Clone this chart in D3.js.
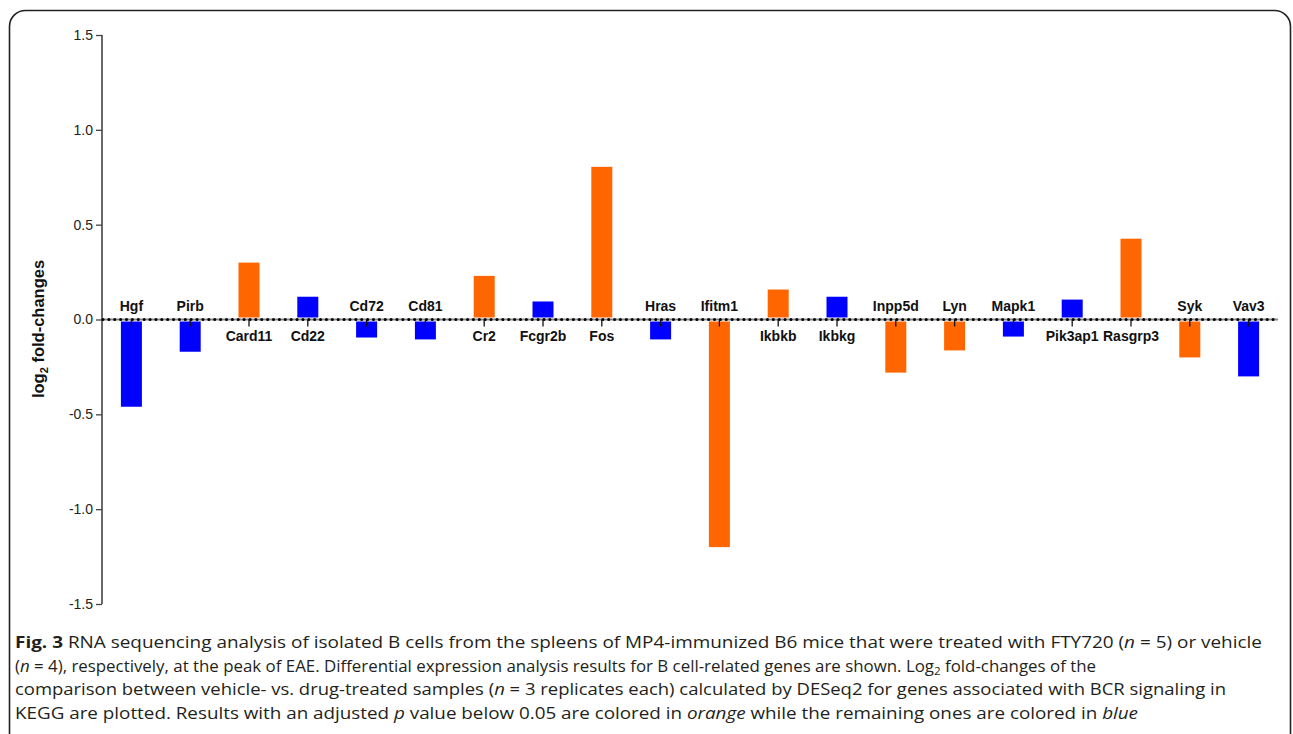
<!DOCTYPE html>
<html><head><meta charset="utf-8">
<script src="https://cdn.jsdelivr.net/npm/d3@7/dist/d3.min.js"></script>
<style>
body{margin:0;background:#fff;}
svg{display:block;}
</style></head>
<body>
<svg id="chart" width="1293" height="734"></svg>
<script>
const genes = ["Hgf","Pirb","Card11","Cd22","Cd72","Cd81","Cr2","Fcgr2b","Fos","Hras","Ifitm1","Ikbkb","Ikbkg","Inpp5d","Lyn","Mapk1","Pik3ap1","Rasgrp3","Syk","Vav3"];
const log2fc = [-0.46,-0.17,0.30,0.12,-0.095,-0.105,0.23,0.095,0.805,-0.105,-1.20,0.158,0.12,-0.28,-0.163,-0.09,0.105,0.426,-0.20,-0.30];
const significant = [false,false,true,false,false,false,true,false,true,false,true,true,false,true,true,false,false,true,true,false];
const yTicks = [1.5,1.0,0.5,0.0,-0.5,-1.0,-1.5];
const yTickLabels = ["1.5","1.0","0.5","0.0","-0.5","-1.0","-1.5"];

const svg = d3.select("#chart");
const ORANGE = "#ff6600", BLUE = "#0000ff";
const SANS = "Arial, 'Liberation Sans', Helvetica, sans-serif";

// frame
svg.append("rect").attr("x",9.5).attr("y",10.5).attr("width",1281).attr("height",760)
  .attr("rx",16).attr("ry",16).attr("fill","none").attr("stroke","#222").attr("stroke-width",1.6);

const x = d3.scaleBand().domain(genes).range([102,1278]).padding(0);
const y = d3.scaleLinear().domain([-1.5,1.5]).range([604,35]);
const bw = 21;

// y axis
const yAxis = d3.axisLeft(y).tickValues(yTicks).tickFormat((d,i)=>yTickLabels[i]).tickSize(6).tickPadding(3);
const ga = svg.append("g").attr("transform","translate(102,0)").call(yAxis);
ga.attr("font-family",SANS).attr("font-size",14);
ga.select(".domain").attr("stroke","#444").attr("stroke-width",1.6).attr("d","M0,35V604");
ga.selectAll(".tick line").attr("stroke","#444").attr("stroke-width",1.3);
ga.selectAll(".tick text").attr("fill","#222");

// y axis title
const yt = svg.append("text").attr("transform","translate(44,329) rotate(-90)")
  .attr("text-anchor","middle").attr("font-family",SANS)
  .attr("font-size",16.5).attr("font-weight","bold").attr("fill","#111");
yt.append("tspan").text("log");
yt.append("tspan").attr("font-size",11).attr("dy",4).text("2");
yt.append("tspan").attr("dy",-4).text(" fold-changes");

// zero line
svg.append("line").attr("x1",102).attr("x2",1278).attr("y1",y(0)).attr("y2",y(0))
  .attr("stroke","#888").attr("stroke-width",2);
const step = x.step()/10;
svg.append("g").selectAll("circle").data(d3.range(0,200)).join("circle")
  .attr("cx",d=>103+d*step).attr("cy",y(0)).attr("r",1.5).attr("fill","#000");

// bars
svg.append("g").selectAll("rect").data(genes).join("rect")
  .attr("x",d=>x(d)+x.bandwidth()/2-bw/2)
  .attr("width",bw)
  .attr("y",(d,i)=>log2fc[i]>0 ? y(log2fc[i]) : y(0)+2)
  .attr("height",(d,i)=>log2fc[i]>0 ? y(0)-2-y(log2fc[i]) : y(log2fc[i])-y(0)-2)
  .attr("fill",(d,i)=>significant[i]?ORANGE:BLUE);

// category ticks
svg.append("g").selectAll("line").data(genes).join("line")
  .attr("x1",d=>x(d)+x.bandwidth()/2).attr("x2",d=>x(d)+x.bandwidth()/2)
  .attr("y1",y(0)).attr("y2",y(0)+7).attr("stroke","#111").attr("stroke-width",1.3);

// gene labels
svg.append("g").selectAll("text").data(genes).join("text")
  .attr("x",d=>x(d)+x.bandwidth()/2)
  .attr("y",(d,i)=>log2fc[i]<0 ? y(0)-9 : y(0)+21)
  .attr("text-anchor","middle").attr("font-family",SANS)
  .attr("font-size",14).attr("font-weight","bold").attr("fill","#111").text(d=>d);

// caption
const cap = svg.append("g").attr("font-family","'Open Sans',sans-serif").attr("font-size",16).attr("fill","#231f20");
const lines = [
  {y:648, end:1262, parts:[["Fig. 3","b"],[" RNA sequencing analysis of isolated B cells from the spleens of MP4-immunized B6 mice that were treated with FTY720 (",""],["n","i"],[" = 5) or vehicle",""]]},
  {y:671.5, end:1096, parts:[["(",""],["n","i"],[" = 4), respectively, at the peak of EAE. Differential expression analysis results for B cell-related genes are shown. Log",""],["2","s"],[" fold-changes of the",""]]},
  {y:695, end:1226, parts:[["comparison between vehicle- vs. drug-treated samples (",""],["n","i"],[" = 3 replicates each) calculated by DESeq2 for genes associated with BCR signaling in",""]]},
  {y:718.5, end:1138, parts:[["KEGG are plotted. Results with an adjusted ",""],["p","i"],[" value below 0.05 are colored in ",""],["orange","i"],[" while the remaining ones are colored in ",""],["blue","i"]]}
];
lines.forEach(l=>{
  const t = cap.append("text").attr("x",15).attr("y",l.y);
  l.parts.forEach((p,i)=>{
    const ts = t.append("tspan").text(p[0]);
    if(p[1]==="b") ts.attr("font-weight","bold");
    if(p[1]==="i") ts.attr("font-style","italic");
    if(p[1]==="s") ts.attr("font-size",11).attr("dy",3);
    if(i>0 && l.parts[i-1][1]==="s") ts.attr("dy",-3);
  });
  t.attr("textLength", l.end-15).attr("lengthAdjust","spacingAndGlyphs");
});
</script>
</body></html>
